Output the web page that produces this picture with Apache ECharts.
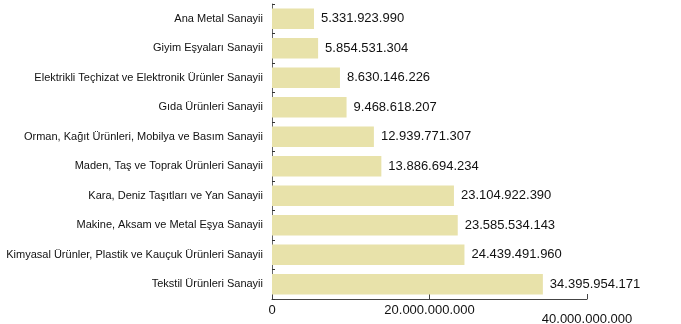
<!DOCTYPE html>
<html>
<head>
<meta charset="utf-8">
<script src="https://cdn.jsdelivr.net/npm/echarts@6/dist/echarts.min.js"></script>
<style>
  html, body { margin: 0; padding: 0; background: #fff; }
  #chart { width: 681px; height: 324px; }
</style>
</head>
<body>
<div id="chart"></div>
<script>
// Sectors, listed top to bottom
const sectors = [
  'Ana Metal Sanayii',
  'Giyim Eşyaları Sanayii',
  'Elektrikli Teçhizat ve Elektronik Ürünler Sanayii',
  'Gıda Ürünleri Sanayii',
  'Orman, Kağıt Ürünleri, Mobilya ve Basım Sanayii',
  'Maden, Taş ve Toprak Ürünleri Sanayii',
  'Kara, Deniz Taşıtları ve Yan Sanayii',
  'Makine, Aksam ve Metal Eşya Sanayii',
  'Kimyasal Ürünler, Plastik ve Kauçuk Ürünleri Sanayii',
  'Tekstil Ürünleri Sanayii'
];
const values = [
  5331923990,
  5854531304,
  8630146226,
  9468618207,
  12939771307,
  13886694234,
  23104922390,
  23585534143,
  24439491960,
  34395954171
];
const axisTicks = [0, 20000000000, 40000000000];

// Thousands grouped with dots (Turkish style)
function fmt(v) {
  return String(Math.round(v)).replace(/\B(?=(\d{3})+(?!\d))/g, '.');
}

const FONT = '"Liberation Sans", Arial, sans-serif';

const chart = echarts.init(document.getElementById('chart'));
chart.setOption({
  animation: false,
  grid: { left: 272, right: 94, top: 4, bottom: 25, containLabel: false, outerBoundsMode: 'none' },
  xAxis: {
    type: 'value',
    min: axisTicks[0],
    max: axisTicks[axisTicks.length - 1],
    interval: axisTicks[1] - axisTicks[0],
    splitLine: { show: false },
    axisLine: { show: true, lineStyle: { color: '#444', width: 1 } },
    axisTick: { show: true, inside: true, length: 5, lineStyle: { color: '#444' } },
    axisLabel: {
      color: '#111',
      fontFamily: FONT,
      fontSize: 13,
      margin: 5,
      formatter: function (v) {
        return v === axisTicks[axisTicks.length - 1] ? '{low|' + fmt(v) + '}' : fmt(v);
      },
      rich: {
        low: { fontFamily: FONT, fontSize: 13, color: '#111', padding: [9, 0, 0, 0] }
      }
    }
  },
  yAxis: {
    type: 'category',
    inverse: true,
    data: sectors,
    axisLine: { show: true, lineStyle: { color: '#666', width: 1 } },
    axisTick: { show: true, inside: true, length: 3, lineStyle: { color: '#333' } },
    axisLabel: {
      color: '#111',
      fontFamily: FONT,
      fontSize: 11,
      margin: 9
    }
  },
  series: [{
    type: 'bar',
    data: values,
    barCategoryGap: '30%',
    itemStyle: { color: '#e8e2aa' },
    label: {
      show: true,
      position: 'right',
      distance: 7,
      color: '#111',
      fontFamily: FONT,
      fontSize: 13,
      formatter: function (p) { return fmt(p.value); }
    }
  }]
});
</script>
</body>
</html>
